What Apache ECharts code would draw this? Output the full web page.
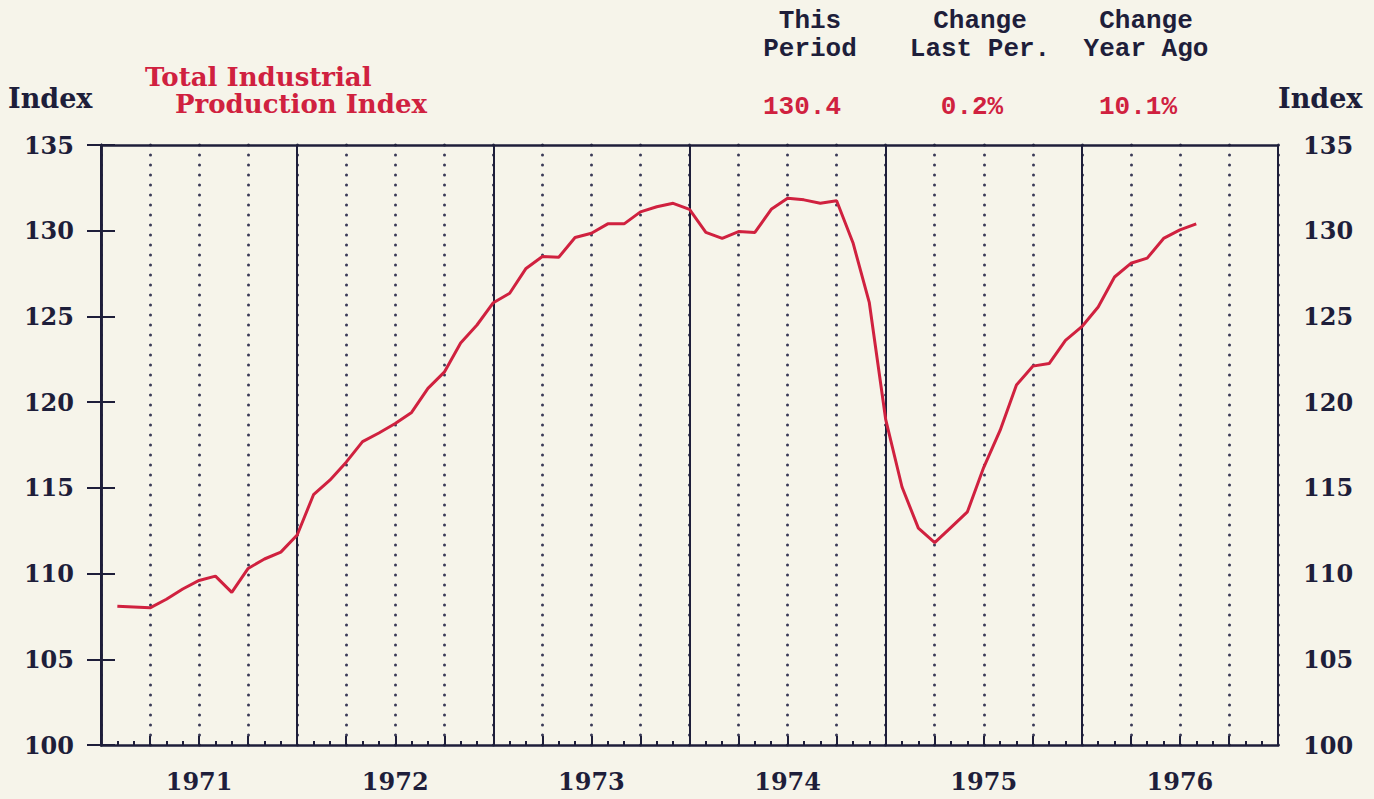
<!DOCTYPE html>
<html>
<head>
<meta charset="utf-8">
<script src="https://cdn.jsdelivr.net/npm/echarts@6/dist/echarts.min.js"></script>
<style>
html,body{margin:0;padding:0;background:#f6f4ea;}
#chart{width:1374px;height:799px;}
</style>
</head>
<body>
<div id="chart"></div>
<script>
// ---- data ----
const years = ['1971', '1972', '1973', '1974', '1975', '1976'];
const firstMonth = 1; // months counted from Jan 1971 (0)
const values = [
  108.1, 108.05, 108.0, 108.5, 109.1, 109.6, 109.85, 108.9, 110.3, 110.85, 111.25, 112.25,
  114.6, 115.45, 116.5, 117.7, 118.2, 118.75, 119.4, 120.8, 121.75, 123.45, 124.5, 125.8,
  126.35, 127.8, 128.5, 128.45, 129.6, 129.85, 130.4, 130.4, 131.1, 131.4, 131.6, 131.25,
  129.9, 129.55, 129.95, 129.9, 131.25, 131.9, 131.8, 131.6, 131.75, 129.3, 125.8, 119.0,
  115.05, 112.65, 111.8, 112.7, 113.6, 116.2, 118.35, 121.0, 122.1, 122.25, 123.6, 124.4,
  125.55, 127.3, 128.1, 128.4, 129.55, 130.05, 130.4
];
const yTicks = [100, 105, 110, 115, 120, 125, 130, 135];
const seriesTitle = ['Total Industrial', 'Production Index'];
const statHeads = [['This', 'Period'], ['Change', 'Last Per.'], ['Change', 'Year Ago']];
const statValues = ['130.4', '0.2%', '10.1%'];
const axisTitle = 'Index';

// ---- build ----
const dark = '#1e1e3a';
const red = '#d0213f';
const serif = '"DejaVu Serif", serif';
const mono = '"Liberation Mono", monospace';
const lineData = values.map((v, i) => [firstMonth + i, v]);

const statX = [810, 980, 1146];
const graphics = [];
graphics.push({type: 'text', left: 8, top: 85, style: {text: axisTitle, font: 'bold 27px ' + serif, fill: dark}});
graphics.push({type: 'text', left: 1278, top: 85, style: {text: axisTitle, font: 'bold 27px ' + serif, fill: dark}});
graphics.push({type: 'text', left: 145, top: 64, style: {text: seriesTitle[0], font: 'bold 26px ' + serif, fill: red}});
graphics.push({type: 'text', left: 175, top: 91, style: {text: seriesTitle[1], font: 'bold 26px ' + serif, fill: red}});
statHeads.forEach((h, i) => {
  graphics.push({type: 'text', x: statX[i], y: 21, style: {text: h[0], font: 'bold 26px ' + mono, lineHeight: 26, fill: dark, align: 'center', verticalAlign: 'middle'}});
  graphics.push({type: 'text', x: statX[i], y: 49, style: {text: h[1], font: 'bold 26px ' + mono, lineHeight: 26, fill: dark, align: 'center', verticalAlign: 'middle'}});
  graphics.push({type: 'text', x: statX[i] - 8, y: 107, style: {text: statValues[i], font: 'bold 26px ' + mono, lineHeight: 26, fill: red, align: 'center', verticalAlign: 'middle'}});
});

const yAxisCommon = {
  type: 'value', min: yTicks[0], max: yTicks[yTicks.length - 1], interval: 5,
  axisLine: {show: true, lineStyle: {color: dark, width: 2.5}},
  axisTick: {show: true, inside: false, length: 14, lineStyle: {color: dark, width: 2}},
  splitLine: {show: false},
  axisLabel: {color: dark, fontFamily: serif, fontWeight: 'bold', fontSize: 24}
};

const chart = echarts.init(document.getElementById('chart'), null, {renderer: 'svg'});
chart.setOption({
  backgroundColor: '#f6f4ea',
  animation: false,
  grid: {left: 101, right: 96, top: 145, bottom: 54, containLabel: false},
  graphic: graphics,
  xAxis: [
    {
      type: 'value', min: 0, max: 72, interval: 3, position: 'bottom',
      axisLine: {show: true, onZero: false, lineStyle: {color: dark, width: 2.5}},
      axisTick: {show: true, inside: true, length: 9, lineStyle: {color: dark, width: 2}},
      minorTick: {show: true, splitNumber: 3, length: 4, lineStyle: {color: dark, width: 2}},
      splitLine: {show: true, lineStyle: {color: '#3a3a58', width: 3, type: [0.1, 9.9], cap: 'round'}},
      axisLabel: {
        show: true, margin: 24, color: dark, fontFamily: serif, fontWeight: 'bold', fontSize: 24,
        formatter: v => (v % 12 === 6 ? years[(v - 6) / 12] : '')
      }
    },
    {
      type: 'value', min: 0, max: 72, interval: 12, position: 'top',
      axisLine: {show: true, onZero: false, lineStyle: {color: dark, width: 2.5}},
      axisTick: {show: false},
      axisLabel: {show: false},
      splitLine: {show: true, lineStyle: {color: dark, width: 2}}
    }
  ],
  yAxis: [
    Object.assign({}, yAxisCommon, {position: 'left', axisLabel: Object.assign({}, yAxisCommon.axisLabel, {margin: 27})}),
    Object.assign({}, yAxisCommon, {position: 'right', axisLabel: Object.assign({}, yAxisCommon.axisLabel, {margin: 25})})
  ],
  series: [{
    type: 'line', xAxisIndex: 0, yAxisIndex: 0, data: lineData,
    symbol: 'none', smooth: false,
    lineStyle: {color: red, width: 3}
  }]
});
</script>
</body>
</html>
